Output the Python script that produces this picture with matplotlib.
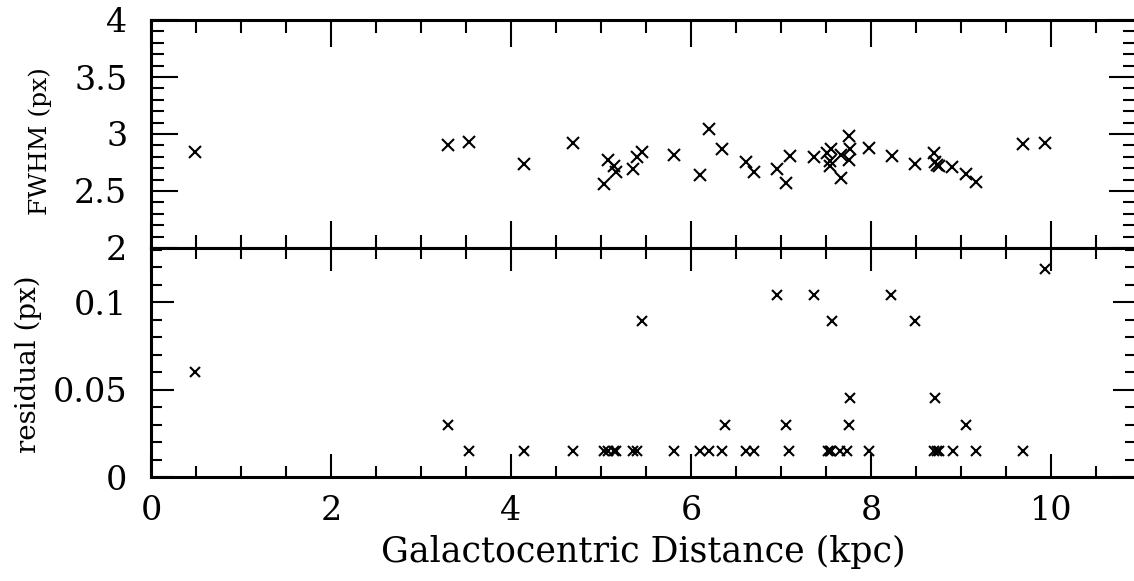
import matplotlib
matplotlib.use("Agg")
import matplotlib.pyplot as plt
from matplotlib.ticker import MultipleLocator, FuncFormatter


#
# data
#
# galactocentric distance (kpc) of each star in the FWHM panel
dist_fwhm = [0.49, 3.30, 3.53, 4.14, 4.69, 5.03, 5.08, 5.14, 5.17, 5.36,
             5.40, 5.46, 5.81, 6.10, 6.20, 6.34, 6.61, 6.70, 6.96, 7.06,
             7.10, 7.37, 7.51, 7.56, 7.54, 7.54, 7.67, 7.75, 7.77, 7.75,
             7.67, 7.98, 8.23, 8.49, 8.70, 8.71, 8.73, 8.75, 8.90, 9.05,
             9.17, 9.69, 9.93]
fwhm_px = [2.84, 2.90, 2.93, 2.74, 2.92, 2.56, 2.77, 2.72, 2.67, 2.69,
           2.80, 2.84, 2.82, 2.64, 3.04, 2.87, 2.75, 2.67, 2.69, 2.57,
           2.81, 2.80, 2.83, 2.87, 2.76, 2.72, 2.82, 2.98, 2.87, 2.77,
           2.61, 2.88, 2.81, 2.74, 2.83, 2.75, 2.73, 2.72, 2.71, 2.65,
           2.58, 2.91, 2.92]

# galactocentric distance (kpc) of each star in the residual panel
dist_resid = [0.49, 3.30, 3.53, 4.14, 4.69, 5.03, 5.08, 5.14, 5.17, 5.36,
              5.40, 5.46, 5.81, 6.10, 6.20, 6.34, 6.38, 6.61, 6.70, 6.96,
              7.06, 7.09, 7.37, 7.52, 7.55, 7.57, 7.66, 7.73, 7.75, 7.77,
              7.98, 8.22, 8.49, 8.71, 8.70, 8.73, 8.75, 8.91, 9.06, 9.17,
              9.69, 9.93, 7.54]
resid_px = [0.060, 0.030, 0.015, 0.015, 0.015, 0.015, 0.015, 0.015, 0.015, 0.015,
            0.015, 0.089, 0.015, 0.015, 0.015, 0.015, 0.030, 0.015, 0.015, 0.104,
            0.030, 0.015, 0.104, 0.015, 0.015, 0.089, 0.015, 0.015, 0.030, 0.045,
            0.015, 0.104, 0.089, 0.045, 0.015, 0.015, 0.015, 0.015, 0.030, 0.015,
            0.015, 0.119, 0.015]

x_label = "Galactocentric Distance (kpc)"
y_label_top = "FWHM (px)"
y_label_bottom = "residual (px)"

plt.rcParams["font.family"] = ["DejaVu Serif"]
plt.rcParams["mathtext.fontset"] = "dejavuserif"

fig = plt.figure(figsize=(11.34, 5.81), dpi=100)

# panel geometry in figure fractions (pixels / image size)
left = 151 / 1134
width = 985 / 1134
ax_top = fig.add_axes([left, 1 - 248 / 581, width, 228 / 581])
ax_bot = fig.add_axes([left, 1 - 477 / 581, width, 229 / 581])

fmt = FuncFormatter(lambda v, pos: "%g" % round(v, 4))


def style_axes(ax, major_len, minor_len):
    # heavy frame, inward ticks on all four sides
    for s in ax.spines.values():
        s.set_linewidth(2.2)
    ax.tick_params(which="both", direction="in", top=True, right=True,
                   width=1.5, labelsize=24, colors="black")
    ax.tick_params(which="major", length=major_len)
    ax.tick_params(which="minor", length=minor_len)
    ax.tick_params(axis="y", pad=17)
    ax.tick_params(axis="x", pad=13)
    ax.xaxis.set_major_locator(MultipleLocator(2))
    ax.xaxis.set_minor_locator(MultipleLocator(0.5))
    ax.yaxis.set_major_formatter(fmt)


# top: FWHM
ax_top.plot(dist_fwhm, fwhm_px, linestyle=" ", marker="x", color="black",
            markersize=8.6, markeredgewidth=1.5)
ax_top.set_xlim(0, 10.944)
ax_top.set_ylim(2, 4)
style_axes(ax_top, 19.4, 9.4)
ax_top.yaxis.set_major_locator(MultipleLocator(0.5))
ax_top.yaxis.set_minor_locator(MultipleLocator(0.1))
ax_top.tick_params(axis="x", labelbottom=False)
ax_top.set_ylabel(y_label_top, fontsize=18)
ax_top.yaxis.set_label_coords(-0.1005, 0.467)

# bottom: residual
ax_bot.plot(dist_resid, resid_px, linestyle=" ", marker="x", color="black",
            markersize=7.2, markeredgewidth=1.5)
ax_bot.set_xlim(0, 10.944)
ax_bot.set_ylim(0, 0.1309)
style_axes(ax_bot, 16.6, 7.9)
ax_bot.yaxis.set_major_locator(MultipleLocator(0.05))
ax_bot.yaxis.set_minor_locator(MultipleLocator(0.01))
ax_bot.xaxis.set_major_formatter(fmt)
ax_bot.set_ylabel(y_label_bottom, fontsize=20)
ax_bot.yaxis.set_label_coords(-0.1107, 0.493)
ax_bot.set_xlabel(x_label, fontsize=25, labelpad=6)

fig.savefig("out.png", dpi=100)
